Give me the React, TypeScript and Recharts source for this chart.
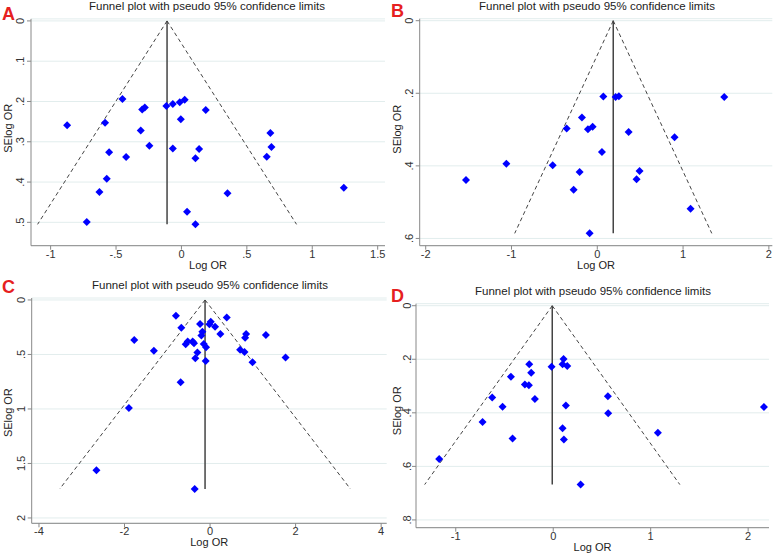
import { ScatterChart, Scatter, XAxis, YAxis, CartesianGrid, ReferenceLine } from "recharts"

// Panel A: Log OR and its standard error
const aLogOR = [-0.874, -0.451, -0.584, -0.3, -0.28, -0.311, -0.245, -0.553, -0.423, -0.571, -0.627, -0.724, -0.115, -0.066, -0.013, 0.025, -0.005, -0.066, 0.186, 0.135, 0.107, 0.68, 0.688, 0.652, 0.352, 0.043, 0.107, 1.241]
const aSE = [0.259, 0.194, 0.253, 0.22, 0.215, 0.272, 0.31, 0.326, 0.338, 0.392, 0.425, 0.499, 0.211, 0.206, 0.202, 0.196, 0.244, 0.317, 0.221, 0.318, 0.341, 0.278, 0.313, 0.337, 0.428, 0.474, 0.505, 0.414]
const aPooled = -0.11

// Panel B
const bLogOR = [-1.53, -1.06, -0.52, -0.357, -0.179, -0.109, -0.054, 0.07, 0.214, 0.252, 0.054, -0.206, -0.276, -0.089, 0.365, 0.901, 0.493, 0.458, 1.087, 1.48]
const bSE = [0.439, 0.394, 0.398, 0.297, 0.267, 0.299, 0.292, 0.209, 0.21, 0.208, 0.362, 0.417, 0.466, 0.586, 0.307, 0.321, 0.414, 0.437, 0.518, 0.21]
const bPooled = 0.186

// Panel C
const cLogOR = [-0.797, -0.672, -1.773, -1.313, -0.234, 0.016, -0.016, 0.117, 0.391, 0.242, -0.18, -0.203, -0.57, -0.523, -0.406, -0.375, -0.148, -0.094, -0.297, -0.344, -0.102, -0.688, -1.898, -2.656, -0.359, 0.844, 0.82, 1.305, 0.703, 0.805, 0.992, 1.766]
const cSE = [0.144, 0.254, 0.367, 0.465, 0.22, 0.199, 0.223, 0.245, 0.162, 0.312, 0.291, 0.327, 0.407, 0.382, 0.382, 0.398, 0.404, 0.434, 0.483, 0.535, 0.56, 0.755, 0.991, 1.563, 1.734, 0.312, 0.346, 0.321, 0.456, 0.477, 0.572, 0.529]
const cPooled = -0.117

// Panel D
const dLogOR = [-1.17, -0.725, -0.626, -0.52, -0.434, -0.417, -0.291, -0.25, -0.246, -0.226, -0.188, -0.017, 0.106, 0.096, 0.144, 0.13, 0.096, 0.109, 0.281, 0.561, 0.564, 1.074, 2.162]
const dSE = [0.572, 0.434, 0.343, 0.377, 0.265, 0.496, 0.294, 0.297, 0.219, 0.25, 0.348, 0.228, 0.199, 0.219, 0.225, 0.373, 0.458, 0.5, 0.668, 0.338, 0.402, 0.474, 0.378]
const dPooled = -0.01

const FONT = "'Liberation Sans', Arial, sans-serif"
const TITLE = "Funnel plot with pseudo 95% confidence limits"

const fmt = (v: number) => String(v).replace(/^0\./, ".").replace(/^-0\./, "-.")

const Diamond = (props: any) => {
  const { cx, cy } = props
  const r = 4
  return <polygon points={`${cx},${cy - r} ${cx + r},${cy} ${cx},${cy + r} ${cx - r},${cy}`} fill="#0000ff" />
}

const YTick = (props: any) => {
  const { x, y, payload } = props
  return (
    <text x={x} y={y} transform={`rotate(-90 ${x} ${y})`} textAnchor="middle" fontSize={11} fill="#333" fontFamily={FONT}>
      {fmt(payload.value)}
    </text>
  )
}

type PanelProps = {
  letter: string
  logOR: number[]
  se: number[]
  pooled: number
  box: { left: number; top: number; w: number; h: number }
  plot: { l: number; t: number; r: number; b: number }
  xDomain: [number, number]
  yDomain: [number, number]
  xTicks: number[]
  yTicks: number[]
  letterY: number
  titleX: number
  titleY: number
  yLabelShift: number
  yTickMargin: number
}

function Panel(p: PanelProps) {
  const data = p.logOR.map((x, i) => ({ x, y: p.se[i] }))
  const seMax = Math.max(...p.se)
  const half = 1.96 * seMax
  const xh = 22
  const ly = (p.plot.t + p.plot.b) / 2 + p.yLabelShift
  return (
    <div style={{ position: "absolute", left: p.box.left, top: p.box.top, width: p.box.w, height: p.box.h }}>
      <ScatterChart
        width={p.box.w}
        height={p.box.h}
        margin={{ top: p.plot.t, right: p.box.w - p.plot.r, bottom: p.box.h - p.plot.b - xh, left: 0 }}
      >
        <CartesianGrid vertical={false} stroke="#e2eded" strokeWidth={1} />
        <XAxis
          type="number"
          dataKey="x"
          domain={p.xDomain}
          ticks={p.xTicks}
          allowDataOverflow
          height={xh}
          tickFormatter={fmt}
          tickSize={4}
          tickMargin={0}
          stroke="#888"
          tick={{ fontSize: 11, fill: "#333", fontFamily: FONT }}
        />
        <YAxis
          type="number"
          dataKey="y"
          reversed
          domain={p.yDomain}
          ticks={p.yTicks}
          allowDataOverflow
          width={p.plot.l}
          tickSize={4}
          tickMargin={p.yTickMargin}
          stroke="#888"
          tick={<YTick />}
        />
        <ReferenceLine
          segment={[{ x: p.pooled, y: 0 }, { x: p.pooled - half, y: seMax }]}
          stroke="#444"
          strokeDasharray="4 3"
        />
        <ReferenceLine
          segment={[{ x: p.pooled, y: 0 }, { x: p.pooled + half, y: seMax }]}
          stroke="#444"
          strokeDasharray="4 3"
        />
        <ReferenceLine segment={[{ x: p.pooled, y: 0 }, { x: p.pooled, y: seMax }]} stroke="#444" strokeWidth={1.5} />
        <Scatter data={data} shape={<Diamond />} isAnimationActive={false} />
      </ScatterChart>
      <svg
        width={p.box.w}
        height={p.box.h}
        style={{ position: "absolute", left: 0, top: 0, pointerEvents: "none" }}
        fontFamily={FONT}
      >
        <text x={2} y={p.letterY} fontSize={18} fontWeight="bold" fill="#e62020">
          {p.letter}
        </text>
        <text x={p.titleX} y={p.titleY} fontSize={11.5} textAnchor="middle" fill="#222">
          {TITLE}
        </text>
        <text x={(p.plot.l + p.plot.r) / 2} y={p.plot.b + 23} fontSize={11} textAnchor="middle" fill="#222">
          Log OR
        </text>
        <text x={12} y={ly} fontSize={11} textAnchor="middle" fill="#222" transform={`rotate(-90 12 ${ly})`}>
          SElog OR
        </text>
      </svg>
    </div>
  )
}

export default function App() {
  return (
    <div style={{ position: "absolute", left: 0, top: 0, width: 778, height: 555, background: "#fff" }}>
      <Panel
        letter="A"
        logOR={aLogOR}
        se={aSE}
        pooled={aPooled}
        box={{ left: 0, top: 0, w: 389, h: 275 }}
        plot={{ l: 31, t: 18.9, r: 385, b: 245.7 }}
        xDomain={[-1.15, 1.556]}
        yDomain={[-0.005, 0.558]}
        xTicks={[-1, -0.5, 0, 0.5, 1, 1.5]}
        yTicks={[0, 0.1, 0.2, 0.3, 0.4, 0.5]}
        letterY={20}
        titleX={207}
        titleY={10}
        yLabelShift={-4}
        yTickMargin={3}
      />
      <Panel
        letter="B"
        logOR={bLogOR}
        se={bSE}
        pooled={bPooled}
        box={{ left: 389, top: 0, w: 389, h: 275 }}
        plot={{ l: 30.7, t: 18.7, r: 383.3, b: 245.7 }}
        xDomain={[-2.07, 2.04]}
        yDomain={[-0.0055, 0.62]}
        xTicks={[-2, -1, 0, 1, 2]}
        yTicks={[0, 0.2, 0.4, 0.6]}
        letterY={17}
        titleX={208}
        titleY={9.5}
        yLabelShift={-3}
        yTickMargin={3}
      />
      <Panel
        letter="C"
        logOR={cLogOR}
        se={cSE}
        pooled={cPooled}
        box={{ left: 0, top: 275, w: 389, h: 280 }}
        plot={{ l: 31.7, t: 23, r: 386.7, b: 248.3 }}
        xDomain={[-4.17, 4.13]}
        yDomain={[-0.018, 2.049]}
        xTicks={[-4, -2, 0, 2, 4]}
        yTicks={[0, 0.5, 1, 1.5, 2]}
        letterY={18}
        titleX={210}
        titleY={14}
        yLabelShift={2}
        yTickMargin={3}
      />
      <Panel
        letter="D"
        logOR={dLogOR}
        se={dSE}
        pooled={dPooled}
        box={{ left: 389, top: 275, w: 389, h: 280 }}
        plot={{ l: 27, t: 28.7, r: 380, b: 252.7 }}
        xDomain={[-1.408, 2.214]}
        yDomain={[-0.0075, 0.829]}
        xTicks={[-1, 0, 1, 2]}
        yTicks={[0, 0.2, 0.4, 0.6, 0.8]}
        letterY={27}
        titleX={204}
        titleY={20}
        yLabelShift={-5}
        yTickMargin={1}
      />
    </div>
  )
}
